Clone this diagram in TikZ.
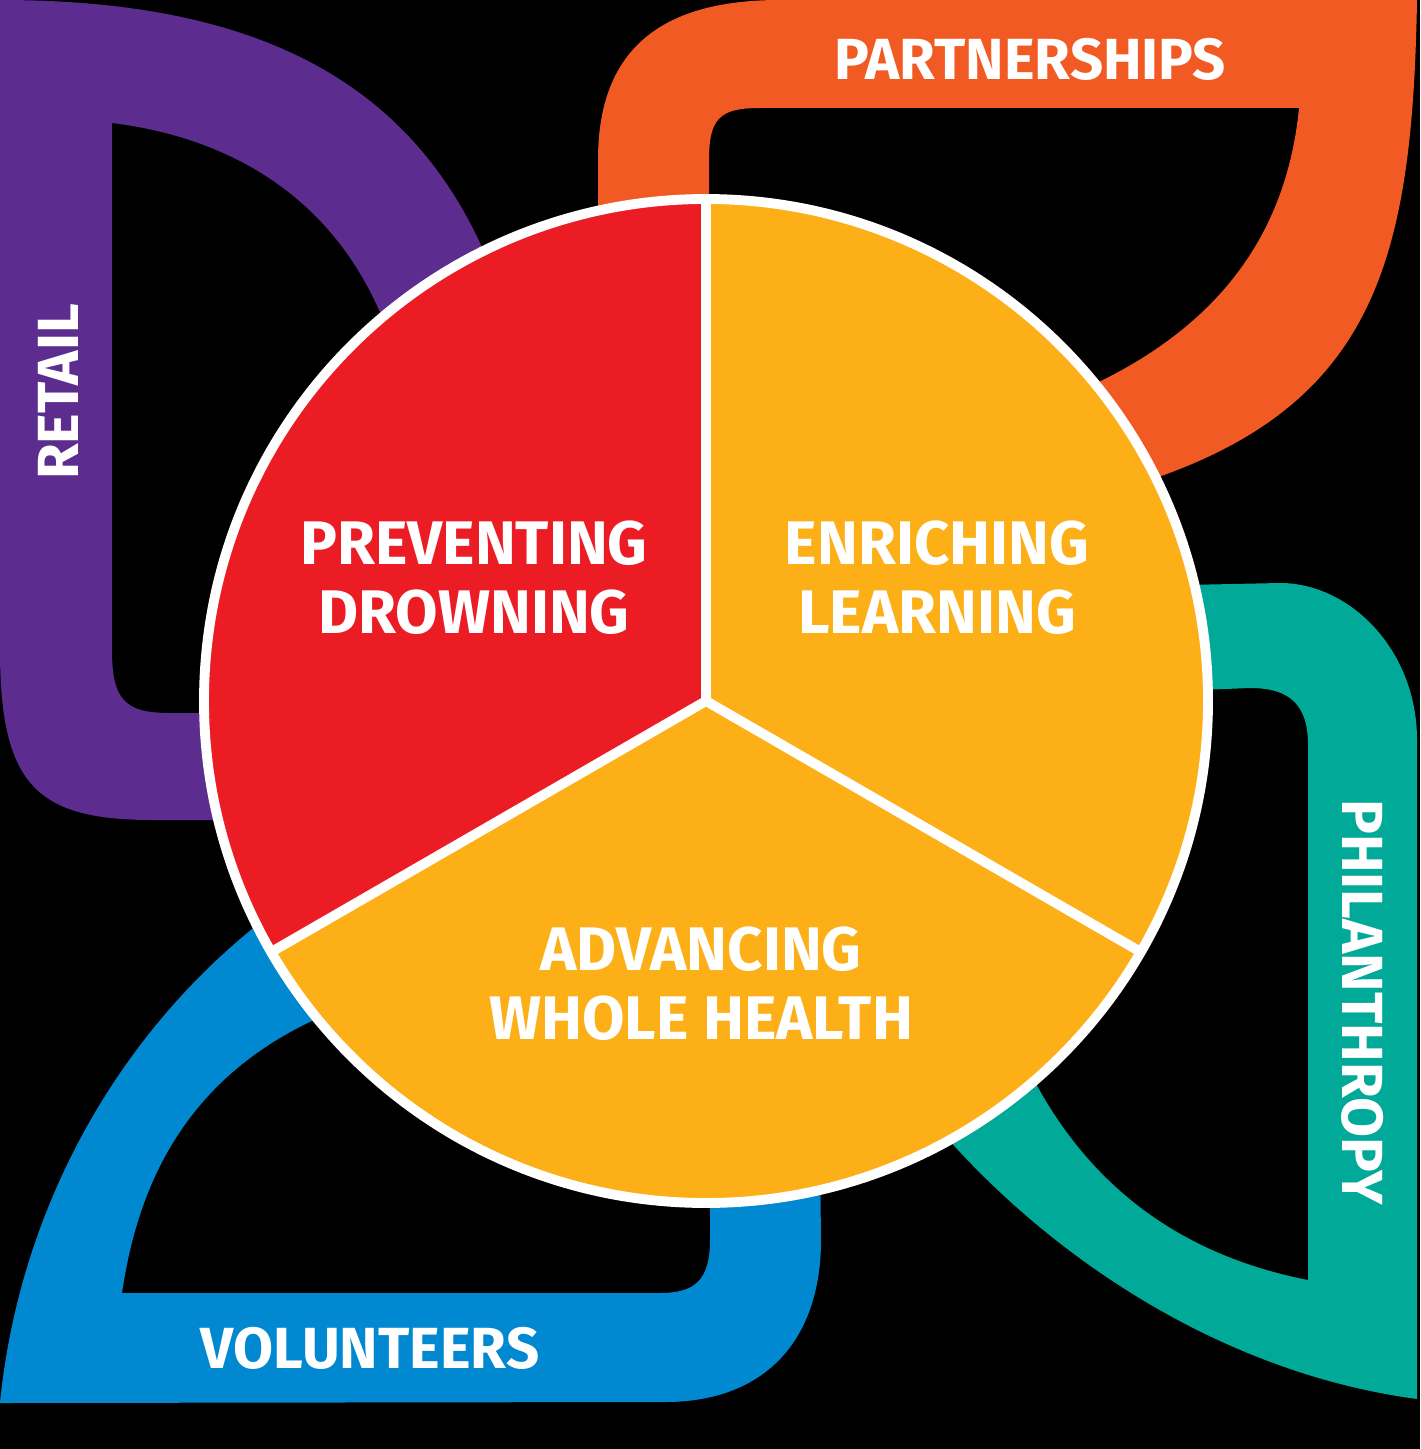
\documentclass[tikz,border=0pt]{standalone}
\usepackage{fontspec}
\setmainfont{Fira Sans}
\usepackage{tikz}
\usetikzlibrary{positioning}
\definecolor{retailpurple}{RGB}{92,45,142}
\definecolor{partnerorange}{RGB}{241,90,34}
\definecolor{philanteal}{RGB}{0,169,152}
\definecolor{voluntblue}{RGB}{0,137,208}
\definecolor{drownred}{RGB}{236,28,36}
\definecolor{hubyellow}{RGB}{252,175,23}

\begin{document}
\begin{tikzpicture}[
    x=0.01cm, y=-0.01cm,
    leaf/.style={even odd rule},
    rim/.style={white, line width=2.8pt},
    hubtext/.style={text=white, align=center, inner sep=0pt, font=\bfseries\fontsize{17.5}{19.6}\selectfont},
    petaltext/.style={text=white, inner sep=0pt, font=\bfseries\fontsize{16.5}{19}\selectfont}
]
\useasboundingbox (0,0) rectangle (1420,1449);
\fill[black] (0,0) rectangle (1420,1449);

% the four petals
\fill[retailpurple, leaf]
  (0,0) .. controls (300,0) and (485,110) .. (530,420)
  -- (600,820) -- (160,820) .. controls (40,821) and (0,790) .. (0,650) -- cycle
  (112,123) .. controls (250,140) and (380,220) .. (410,420)
  -- (450,713) -- (170,713) .. controls (125,713) and (112,700) .. (112,650) -- cycle;

\fill[partnerorange, leaf]
  (598,330) -- (598,160) .. controls (598,50) and (660,0) .. (780,0) -- (1417,0)
  .. controls (1412,280) and (1370,430) .. (1080,500) -- cycle
  (709,320) -- (709,160) .. controls (709,118) and (720,108) .. (760,108) -- (1299,108)
  .. controls (1285,250) and (1200,360) .. (1000,420) -- cycle;

\fill[philanteal, leaf]
  (950,590) -- (1280,583) .. controls (1350,583) and (1417,650) .. (1417,740) -- (1417,1399)
  .. controls (1200,1370) and (1010,1230) .. (900,1080) -- cycle
  (950,700) -- (1250,688) .. controls (1290,688) and (1308,705) .. (1308,745) -- (1308,1280)
  .. controls (1180,1255) and (1060,1180) .. (1000,1000) -- cycle;

\fill[voluntblue, leaf]
  (818,980) -- (821,1240) .. controls (821,1340) and (765,1402) .. (665,1402) -- (0,1403)
  .. controls (20,1200) and (130,1000) .. (320,880) -- cycle
  (710,980) -- (710,1240) .. controls (710,1280) and (695,1293) .. (660,1293) -- (122,1293)
  .. controls (140,1170) and (200,1040) .. (400,990) -- cycle;

% the hub
\coordinate (hub) at (706,701);
\fill[drownred] (hub) -- ++(150:502) arc[start angle=150, end angle=270, radius=502] -- cycle;
\fill[hubyellow] (hub) -- ++(270:502) arc[start angle=270, end angle=390, radius=502] -- cycle;
\fill[hubyellow] (hub) -- ++(30:502) arc[start angle=30, end angle=150, radius=502] -- cycle;
\draw[rim] (hub) circle[radius=502];
\draw[rim] (hub) -- ++(270:502);
\draw[rim] (hub) -- ++(30:502);
\draw[rim] (hub) -- ++(150:502);

\node[hubtext] (prevent) at (474,578) {PREVENTING\\DROWNING};
\node[hubtext] (enrich) at (937,578) {ENRICHING\\LEARNING};
\node[hubtext] (advance) at (701,984) {ADVANCING\\WHOLE HEALTH};

\node[petaltext] (partner) at (1030,59) {PARTNERSHIPS};
\node[petaltext, rotate=90] (retail) at (58,392) {RETAIL};
\node[petaltext, rotate=-90] (philan) at (1363,1002) {PHILANTHROPY};
\node[petaltext] (volunt) at (370,1348) {VOLUNTEERS};

\end{tikzpicture}
\end{document}
